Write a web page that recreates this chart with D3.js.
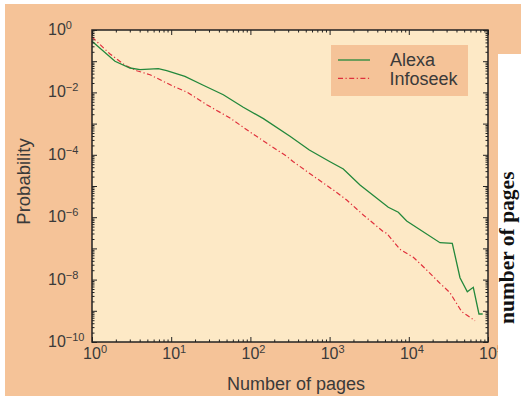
<!DOCTYPE html>
<html><head><meta charset="utf-8">
<script src="https://cdn.jsdelivr.net/npm/d3@7"></script>
<style>html,body{margin:0;padding:0;background:#fff;}svg{display:block;}</style>
</head><body>
<script>
// ---- data ----
const alexaX = [1, 1.95, 3.02, 4.04, 6.87, 8.77, 14.9, 25.4, 45.5, 81.3, 146, 316, 555, 1012, 1490, 2420, 5510, 7370, 9400, 24770, 35400, 44300, 54800, 65200, 76900, 85700];
const alexaY = [0.434, 0.0993, 0.0605, 0.0534, 0.0575, 0.0496, 0.0328, 0.0169, 0.00844, 0.00333, 0.00144, 3.92e-4, 1.43e-4, 6.01e-5, 3.51e-5, 1.08e-5, 2.08e-6, 1.44e-6, 7.55e-7, 1.52e-7, 1.46e-7, 1.15e-8, 4.1e-9, 5.66e-9, 7.9e-10, 7.9e-10];
const infoX = [1.0, 1.69, 2.61, 3.67, 5.40, 10.6, 15.7, 28.1, 55.3, 98.9, 177, 287, 348, 622, 1113, 1644, 2665, 4765, 5260, 7740, 11400, 15240, 24770, 33100, 46600, 53800, 68500];
const infoY = [0.597, 0.170, 0.0739, 0.0496, 0.0369, 0.0157, 0.0103, 0.00403, 0.00151, 5.38e-4, 2.01e-4, 8.95e-5, 6.01e-5, 2.09e-5, 7.45e-6, 3.56e-6, 1.18e-6, 3.43e-7, 3.05e-7, 9.35e-8, 5.18e-8, 2.59e-8, 7.6e-9, 3.8e-9, 9.35e-10, 7.33e-10, 4.82e-10];
const seriesNames = ["Alexa", "Infoseek"];
const xTickExps = [0, 1, 2, 3, 4, 5];
const yTickExps = [0, -1, -2, -3, -4, -5, -6, -7, -8, -9, -10];
const yLabelExps = [0, -2, -4, -6, -8, -10];
const xTitle = "Number of pages";
const yTitle = "Probability";
const sideText = "number of pages";

// ---- layout ----
const W = 521, H = 396;
const L = 92, T = 30, R = 488, B = 342;
const ORANGE = "#f5c398", CREAM = "#fde9c6", TXT = "#3a3a3a";
const GREEN = "#23883b", RED = "#e0303c";

const svg = d3.select("body").append("svg").attr("width", W).attr("height", H);
svg.append("rect").attr("x", 0).attr("y", 0).attr("width", W).attr("height", H).attr("fill", "#fff");
svg.append("rect").attr("x", 5).attr("y", 4).attr("width", W - 5).attr("height", H - 4).attr("fill", ORANGE);

const x = d3.scaleLog().domain([1, 1e5]).range([L, R]);
const y = d3.scaleLog().domain([1e-10, 1]).range([B, T]);

svg.append("rect").attr("x", L).attr("y", T).attr("width", R - L).attr("height", B - T).attr("fill", CREAM);

// series
const line = d3.line().x(d => x(d[0])).y(d => y(d[1]));
const aData = alexaX.map((v, i) => [v, alexaY[i]]);
const iData = infoX.map((v, i) => [v, infoY[i]]);
svg.append("path").datum(iData).attr("d", line).attr("fill", "none").attr("stroke", RED)
  .attr("stroke-width", 1.2).attr("stroke-dasharray", "5,2.5,1.2,2.5");
svg.append("path").datum(aData).attr("d", line).attr("fill", "none").attr("stroke", GREEN)
  .attr("stroke-width", 1.3);

// ticks
const xMajor = xTickExps.map(e => Math.pow(10, e));
const xMinor = [];
xTickExps.slice(0, -1).forEach(e => { for (let k = 2; k <= 9; k++) xMinor.push(k * Math.pow(10, e)); });
const yMajor = yTickExps.map(e => Math.pow(10, e));
const yMinor = [];
yTickExps.slice(1).forEach(e => { for (let k = 2; k <= 9; k++) yMinor.push(k * Math.pow(10, e)); });

function styleAxis(g) {
  g.select(".domain").remove();
  g.selectAll("line").attr("stroke", "#222").attr("stroke-width", 1);
  g.selectAll("text").remove();
}
const H_ = B - T, W_ = R - L;
svg.append("g").attr("transform", `translate(0,${B})`).call(d3.axisBottom(x).tickValues(xMajor).tickSize(-5).tickFormat("")).call(styleAxis);
svg.append("g").attr("transform", `translate(0,${B})`).call(d3.axisBottom(x).tickValues(xMinor).tickSize(-2.5).tickFormat("")).call(styleAxis);
svg.append("g").attr("transform", `translate(0,${T})`).call(d3.axisTop(x).tickValues(xMajor).tickSize(-5).tickFormat("")).call(styleAxis);
svg.append("g").attr("transform", `translate(0,${T})`).call(d3.axisTop(x).tickValues(xMinor).tickSize(-2.5).tickFormat("")).call(styleAxis);
svg.append("g").attr("transform", `translate(${L},0)`).call(d3.axisLeft(y).tickValues(yMajor).tickSize(-5).tickFormat("")).call(styleAxis);
svg.append("g").attr("transform", `translate(${L},0)`).call(d3.axisLeft(y).tickValues(yMinor).tickSize(-2.5).tickFormat("")).call(styleAxis);
svg.append("g").attr("transform", `translate(${R},0)`).call(d3.axisRight(y).tickValues(yMajor).tickSize(-5).tickFormat("")).call(styleAxis);
svg.append("g").attr("transform", `translate(${R},0)`).call(d3.axisRight(y).tickValues(yMinor).tickSize(-2.5).tickFormat("")).call(styleAxis);

// frame
svg.append("rect").attr("x", L).attr("y", T).attr("width", W_).attr("height", H_)
  .attr("fill", "none").attr("stroke", "#222").attr("stroke-width", 1.5);

const FONT = "'Liberation Sans', Arial, Helvetica, sans-serif";
function expStr(e) { return e < 0 ? "\u2212" + (-e) : String(e); }

// y labels
yLabelExps.forEach(e => {
  const t = svg.append("text").attr("x", 48).attr("y", y(Math.pow(10, e)) + 5)
    .attr("font-family", FONT).attr("font-size", 16).attr("fill", TXT);
  t.append("tspan").text("10");
  t.append("tspan").attr("font-size", 11).attr("dy", -6).text(expStr(e));
});
// x labels
xTickExps.forEach(e => {
  const t = svg.append("text").attr("y", 359)
    .attr("font-family", FONT).attr("font-size", 16).attr("fill", TXT);
  t.append("tspan").text("10");
  t.append("tspan").attr("font-size", 11).attr("dy", -6).text(expStr(e));
  const w = t.select("tspan").node().getComputedTextLength();
  t.attr("x", x(Math.pow(10, e)) - w / 2);
});

// titles
svg.append("text").attr("x", 296).attr("y", 390).attr("text-anchor", "middle")
  .attr("font-family", FONT).attr("font-size", 18).attr("fill", TXT).text(xTitle);
svg.append("text").attr("transform", "translate(29.5,181.5) rotate(-90)").attr("text-anchor", "middle")
  .attr("font-family", FONT).attr("font-size", 18.5).attr("fill", TXT).text(yTitle);

// legend
svg.append("rect").attr("x", 331).attr("y", 45).attr("width", 137).attr("height", 51).attr("fill", ORANGE);
svg.append("line").attr("x1", 338).attr("x2", 370).attr("y1", 60).attr("y2", 60).attr("stroke", GREEN).attr("stroke-width", 1.3);
svg.append("line").attr("x1", 338).attr("x2", 370).attr("y1", 78.3).attr("y2", 78.3).attr("stroke", RED)
  .attr("stroke-width", 1.2).attr("stroke-dasharray", "5,2.5,1.2,2.5");
svg.append("text").attr("x", 390).attr("y", 66).attr("font-family", FONT).attr("font-size", 18).attr("fill", TXT).text(seriesNames[0]);
svg.append("text").attr("x", 389.5).attr("y", 85).attr("font-family", FONT).attr("font-size", 18).attr("fill", TXT).text(seriesNames[1]);

// white strip covering the right edge (as in the cropped original)
svg.append("rect").attr("x", 498).attr("y", 54).attr("width", W - 498).attr("height", H - 54).attr("fill", "#fff");

// side text (cropped from original figure)
svg.append("text").attr("transform", "translate(514,324) rotate(-90)")
  .attr("font-family", "'Liberation Serif', 'Times New Roman', serif").attr("font-weight", "bold")
  .attr("font-size", 21.5).attr("fill", "#111").text(sideText);
</script>
</body></html>
